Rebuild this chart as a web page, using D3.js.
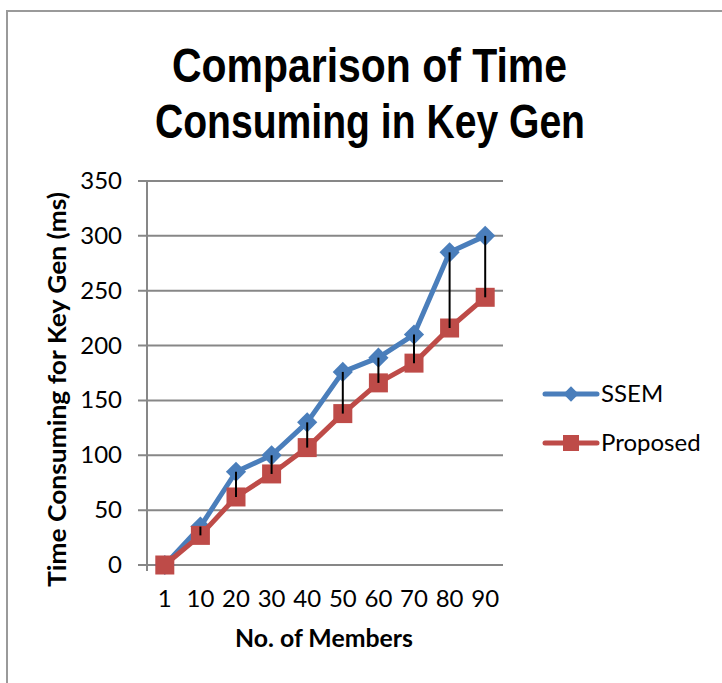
<!DOCTYPE html>
<html>
<head>
<meta charset="utf-8">
<script src="https://cdn.jsdelivr.net/npm/d3@7"></script>
<style>
  body { margin: 0; background: #fff; }
</style>
</head>
<body>
<div id="chart"></div>
<script>
// chart data
var members = ["1", "10", "20", "30", "40", "50", "60", "70", "80", "90"];
var ssem = [0, 35, 85, 100, 130, 176, 189, 210, 285, 300];
var proposed = [0, 27, 62, 83, 107, 138, 166, 184, 216, 244];
var yTicks = [0, 50, 100, 150, 200, 250, 300, 350];
var seriesNames = ["SSEM", "Proposed"];

var W = 722, H = 683;
var plot = { left: 147, right: 503, top: 181, bottom: 565 };
var blue = "#4a7ebb", red = "#be4b48";
var labelFont = "Lato, 'Open Sans', sans-serif";

var svg = d3.select("#chart").append("svg")
  .attr("width", W)
  .attr("height", H);

// frame of the page box
svg.append("path")
  .attr("d", "M7,683 V11 H722")
  .attr("fill", "none")
  .attr("stroke", "#9a9a9a")
  .attr("stroke-width", 2);

// title (narrow bold, squeezed to fit like the original)
var title = svg.append("text")
  .style("font-family", "'Liberation Sans Narrow', 'Liberation Sans', Arial, sans-serif")
  .style("font-weight", "bold")
  .style("font-size", "48px")
  .style("fill", "#000");
title.append("tspan").attr("x", 172).attr("y", 82)
  .attr("textLength", 395).attr("lengthAdjust", "spacingAndGlyphs")
  .text("Comparison of Time");
title.append("tspan").attr("x", 155).attr("y", 138)
  .attr("textLength", 430).attr("lengthAdjust", "spacingAndGlyphs")
  .text("Consuming in Key Gen");

// scales
var x = d3.scaleBand()
  .domain(members)
  .range([plot.left, plot.right]);

var y = d3.scaleLinear()
  .domain([0, 350])
  .range([plot.bottom, plot.top]);

// gridlines
svg.append("g")
  .selectAll("line")
  .data(yTicks)
  .enter().append("line")
  .attr("x1", plot.left - 9)
  .attr("x2", plot.right)
  .attr("y1", function(d) { return y(d); })
  .attr("y2", function(d) { return y(d); })
  .attr("stroke", "#878787")
  .attr("stroke-width", 2);

// y axis line
svg.append("line")
  .attr("x1", plot.left).attr("x2", plot.left)
  .attr("y1", plot.top).attr("y2", plot.bottom + 6)
  .attr("stroke", "#878787")
  .attr("stroke-width", 2);

// y tick labels
svg.append("g")
  .selectAll("text")
  .data(yTicks)
  .enter().append("text")
  .attr("x", 122)
  .attr("y", function(d) { return y(d) + 8; })
  .attr("text-anchor", "end")
  .style("font-family", labelFont)
  .style("font-size", "24px")
  .style("fill", "#000")
  .text(function(d) { return d; });

// x tick labels
svg.append("g")
  .selectAll("text")
  .data(members)
  .enter().append("text")
  .attr("x", function(d) { return x(d) + x.bandwidth() / 2; })
  .attr("y", 607)
  .attr("text-anchor", "middle")
  .style("font-family", labelFont)
  .style("font-size", "24px")
  .style("fill", "#000")
  .text(function(d) { return d; });

// axis titles
svg.append("text")
  .attr("x", 235)
  .attr("y", 647)
  .attr("textLength", 178)
  .attr("lengthAdjust", "spacingAndGlyphs")
  .style("font-family", labelFont)
  .style("font-weight", "bold")
  .style("font-size", "24px")
  .text("No. of Members");

svg.append("text")
  .attr("transform", "translate(66,587) rotate(-90)")
  .attr("textLength", 395)
  .attr("lengthAdjust", "spacingAndGlyphs")
  .style("font-family", labelFont)
  .style("font-weight", "bold")
  .style("font-size", "24px")
  .text("Time Consuming for Key Gen (ms)");

var cx = function(d, i) { return x(members[i]) + x.bandwidth() / 2; };

var line = d3.line()
  .x(cx)
  .y(function(d) { return y(d); });

// SSEM
svg.append("path")
  .datum(ssem)
  .attr("d", line)
  .attr("fill", "none")
  .attr("stroke", blue)
  .attr("stroke-width", 5)
  .attr("stroke-linejoin", "round");

svg.append("g")
  .selectAll("path")
  .data(ssem)
  .enter().append("path")
  .attr("d", d3.symbol().type(d3.symbolDiamond2).size(260))
  .attr("transform", function(d, i) { return "translate(" + cx(d, i) + "," + y(d) + ")"; })
  .attr("fill", blue);

// Proposed
svg.append("path")
  .datum(proposed)
  .attr("d", line)
  .attr("fill", "none")
  .attr("stroke", red)
  .attr("stroke-width", 5)
  .attr("stroke-linejoin", "round");

svg.append("g")
  .selectAll("rect")
  .data(proposed)
  .enter().append("rect")
  .attr("x", function(d, i) { return cx(d, i) - 9.5; })
  .attr("y", function(d) { return y(d) - 9.5; })
  .attr("width", 19)
  .attr("height", 19)
  .attr("fill", red);

// high-low lines
svg.append("g")
  .selectAll("line")
  .data(ssem)
  .enter().append("line")
  .attr("x1", cx)
  .attr("x2", cx)
  .attr("y1", function(d) { return y(d); })
  .attr("y2", function(d, i) { return y(proposed[i]); })
  .attr("stroke", "#000")
  .attr("stroke-width", 2);

// legend
var legend = svg.append("g")
  .selectAll("g")
  .data(seriesNames)
  .enter().append("g")
  .attr("transform", function(d, i) { return "translate(0," + (394 + i * 49) + ")"; });

legend.append("line")
  .attr("x1", 545).attr("x2", 597)
  .attr("y1", 0).attr("y2", 0)
  .attr("stroke", function(d, i) { return i ? red : blue; })
  .attr("stroke-width", 5)
  .attr("stroke-linecap", "round");

legend.each(function(d, i) {
  var g = d3.select(this);
  if (i === 0) {
    g.append("path")
      .attr("d", d3.symbol().type(d3.symbolDiamond2).size(150))
      .attr("transform", "translate(571,0)")
      .attr("fill", blue);
  } else {
    g.append("rect")
      .attr("x", 563).attr("y", -8)
      .attr("width", 16).attr("height", 16)
      .attr("fill", red);
  }
});

legend.append("text")
  .attr("x", 601)
  .attr("y", 8)
  .style("font-family", labelFont)
  .style("font-size", "24px")
  .style("fill", "#000")
  .text(function(d) { return d; });
</script>
</body>
</html>
